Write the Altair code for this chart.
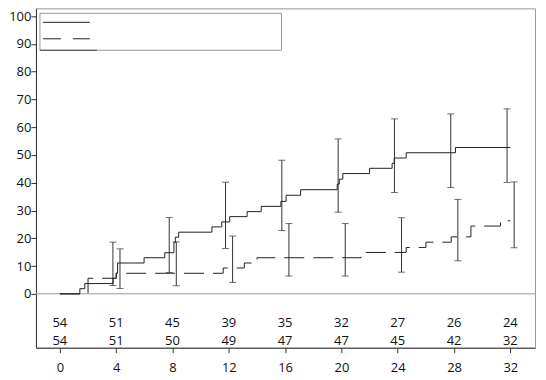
import altair as alt
import pandas as pd

# Solid curve (group 1) step data
t1 = [0, 1.42, 1.77, 3.78, 4.0, 4.1, 5.98, 7.45, 8.1, 8.2, 8.44, 10.8, 11.5, 12.06,
      13.3, 14.3, 15.7, 16.07, 17.1, 19.7, 19.85, 20.1, 22.0, 23.6, 23.75, 24.6, 28.1, 32.0]
v1 = [0, 1.85, 3.7, 5.56, 7.4, 11.1, 13.0, 14.8, 18.5, 20.4, 22.2, 24.1, 25.9, 27.8,
      29.6, 31.5, 33.3, 35.5, 37.5, 39.5, 41.3, 43.3, 45.2, 47.0, 48.9, 50.8, 52.7, 52.7]

# Dashed curve (group 2) step data
t2 = [0, 2.0, 4.0, 11.6, 13.1, 14.0, 21.4, 24.6, 26.0, 27.8, 29.2, 31.3, 32.0]
v2 = [0, 5.6, 7.4, 9.3, 11.1, 13.0, 14.9, 16.7, 18.6, 20.5, 24.4, 26.3, 26.3]

# Confidence intervals at the time points
ci_times = [4, 8, 12, 16, 20, 24, 28, 32]
lo1 = [3.0, 7.7, 16.3, 22.8, 29.4, 36.5, 38.3, 40.1]
hi1 = [18.6, 27.5, 40.2, 48.1, 55.8, 63.0, 64.8, 66.6]
lo2 = [1.9, 2.9, 4.1, 6.4, 6.4, 7.8, 11.9, 16.6]
hi2 = [16.2, 18.7, 20.8, 25.3, 25.3, 27.4, 34.0, 40.3]

# Number at risk
risk_times = [0, 4, 8, 12, 16, 20, 24, 28, 32]
risk1 = [54, 51, 45, 39, 35, 32, 27, 26, 24]
risk2 = [54, 51, 50, 49, 47, 47, 45, 42, 32]
risk_row_y = [-10.4, -16.9]

x_ticks = [0, 4, 8, 12, 16, 20, 24, 28, 32]
y_ticks = [0, 10, 20, 30, 40, 50, 60, 70, 80, 90, 100]

FONT = "Open Sans"
LINE = "#222222"

xs = alt.Scale(domain=[-1.7, 33.75], nice=False, zero=False)
ys = alt.Scale(domain=[-19.4, 102.8], nice=False, zero=False)

xax = alt.Axis(values=x_ticks, title=None, grid=False, domainColor="#333", tickColor="#333",
               tickSize=5, labelPadding=9, labelFontSize=13, labelFont=FONT, labelColor="#111")
yax = alt.Axis(values=y_ticks, title=None, grid=False, domainColor="#333", tickColor="#333",
               tickSize=5, labelPadding=0, labelFontSize=13, labelFont=FONT, labelColor="#111")

df1 = pd.DataFrame({"t": t1, "v": v1})
df2 = pd.DataFrame({"t": t2, "v": v2})
ci1 = pd.DataFrame({"t": ci_times, "lo": lo1, "hi": hi1})
ci2 = pd.DataFrame({"t": ci_times, "lo": lo2, "hi": hi2})
risk = pd.DataFrame({
    "t": risk_times * 2,
    "n": risk1 + risk2,
    "y": [risk_row_y[0]] * len(risk_times) + [risk_row_y[1]] * len(risk_times),
})
zero = pd.DataFrame({"y": [0]})
dummy = pd.DataFrame({"a": [0]})

zero_line = alt.Chart(zero).mark_rule(color="#999999", strokeWidth=1).encode(
    y=alt.Y("y:Q", scale=ys, axis=yax))

line1 = alt.Chart(df1).mark_line(interpolate="step-after", color=LINE, strokeWidth=1).encode(
    x=alt.X("t:Q", scale=xs, axis=xax), y=alt.Y("v:Q", scale=ys, axis=yax))
line2 = alt.Chart(df2).mark_line(interpolate="step-after", color=LINE, strokeWidth=1,
                                 strokeDash=[20, 9]).encode(
    x=alt.X("t:Q", scale=xs, axis=xax), y=alt.Y("v:Q", scale=ys, axis=yax))

def errbars(df, off):
    bar = alt.Chart(df).mark_rule(color="#333333", strokeWidth=1, xOffset=off).encode(
        x=alt.X("t:Q", scale=xs, axis=xax), y=alt.Y("lo:Q", scale=ys, axis=yax), y2="hi:Q")
    cap_lo = alt.Chart(df).mark_tick(color="#333333", orient="horizontal", size=7,
                                     thickness=1, xOffset=off).encode(
        x=alt.X("t:Q", scale=xs, axis=xax), y=alt.Y("lo:Q", scale=ys, axis=yax))
    cap_hi = alt.Chart(df).mark_tick(color="#333333", orient="horizontal", size=7,
                                     thickness=1, xOffset=off).encode(
        x=alt.X("t:Q", scale=xs, axis=xax), y=alt.Y("hi:Q", scale=ys, axis=yax))
    return bar + cap_lo + cap_hi

eb1 = errbars(ci1, -3.3)
eb2 = errbars(ci2, 3.8)

risk_text = alt.Chart(risk).mark_text(font=FONT, fontSize=13, color="#111", baseline="middle",
                                      align="center").encode(
    x=alt.X("t:Q", scale=xs, axis=xax), y=alt.Y("y:Q", scale=ys, axis=yax), text="n:Q")

# Legend box (drawn manually, no labels as in the reference)
leg_box = alt.Chart(dummy).mark_rect(fill="white", stroke="#999999", strokeWidth=1).encode(
    x=alt.value(4), x2=alt.value(246), y=alt.value(5), y2=alt.value(42))
leg_solid = alt.Chart(dummy).mark_rule(color=LINE, strokeWidth=1).encode(
    x=alt.value(7), x2=alt.value(54), y=alt.value(14))
leg_dash = alt.Chart(dummy).mark_rule(color=LINE, strokeWidth=1, strokeDash=[18, 12]).encode(
    x=alt.value(7), x2=alt.value(54), y=alt.value(30.5))
leg_third = alt.Chart(dummy).mark_rule(color="#444444", strokeWidth=1).encode(
    x=alt.value(4), x2=alt.value(61), y=alt.value(42))

chart = alt.layer(
    zero_line, eb1, eb2, line1, line2, risk_text, leg_box, leg_solid, leg_dash, leg_third
).properties(
    width=500, height=340,
    padding={"left": 0, "top": 0, "right": 2, "bottom": 0},
).configure_view(
    stroke="#999999", strokeWidth=1
)

chart.save("out.html", embed_options={"renderer": "svg", "actions": False})
